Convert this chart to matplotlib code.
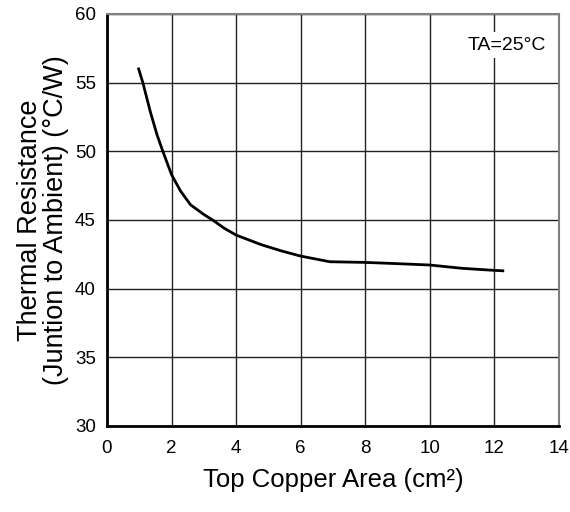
import numpy as np
from matplotlib import pyplot as plt

# curve
area = [0.98, 1.11, 1.34, 1.55, 1.73, 2.0, 2.28, 2.59, 3.0, 3.27, 3.63, 4.0,
        4.78, 5.4, 6.0, 6.9, 8.0, 9.0, 10.0, 11.0, 12.0, 12.26]
rth = [56.0, 55.0, 52.9, 51.2, 50.0, 48.3, 47.1, 46.1, 45.4, 45.0, 44.4, 43.9,
       43.2, 42.75, 42.37, 41.96, 41.91, 41.82, 41.72, 41.48, 41.33, 41.3]

xticks = [0, 2, 4, 6, 8, 10, 12, 14]
yticks = [30, 35, 40, 45, 50, 55, 60]

plt.rcParams['font.family'] = ['Liberation Sans', 'DejaVu Sans']

fig = plt.figure(figsize=(5.7, 5.12), dpi=100)
ax = fig.add_axes([0.1877, 0.168, 0.793, 0.8047])

ax.plot(area, rth, color='black', lw=2, zorder=3, solid_joinstyle='round')

ax.set_xlim(0, 14)
ax.set_ylim(30, 60)
ax.set_xticks(xticks)
ax.set_yticks(yticks)
ax.grid(True, color='#222222', lw=1)
ax.tick_params(length=0, labelsize=13.5)
ax.tick_params(axis='x', pad=10)
ax.tick_params(axis='y', pad=8)

for s in ['top', 'right']:
    ax.spines[s].set_color('#808080')
    ax.spines[s].set_linewidth(1.5)
for s in ['left', 'bottom']:
    ax.spines[s].set_color('black')
    ax.spines[s].set_linewidth(2)

ax.text(12.38, 57.74, "TA=25°C", ha='center', va='center', fontsize=14,
        bbox=dict(facecolor='white', edgecolor='none', pad=3), zorder=4)

ax.set_xlabel("Top Copper Area (cm²)", fontsize=18.5, labelpad=8)
ax.set_ylabel("Thermal Resistance\n(Juntion to Ambient) (°C/W)", fontsize=19.5,
              labelpad=4, linespacing=1.0)

fig.savefig("out.png", dpi=100)
